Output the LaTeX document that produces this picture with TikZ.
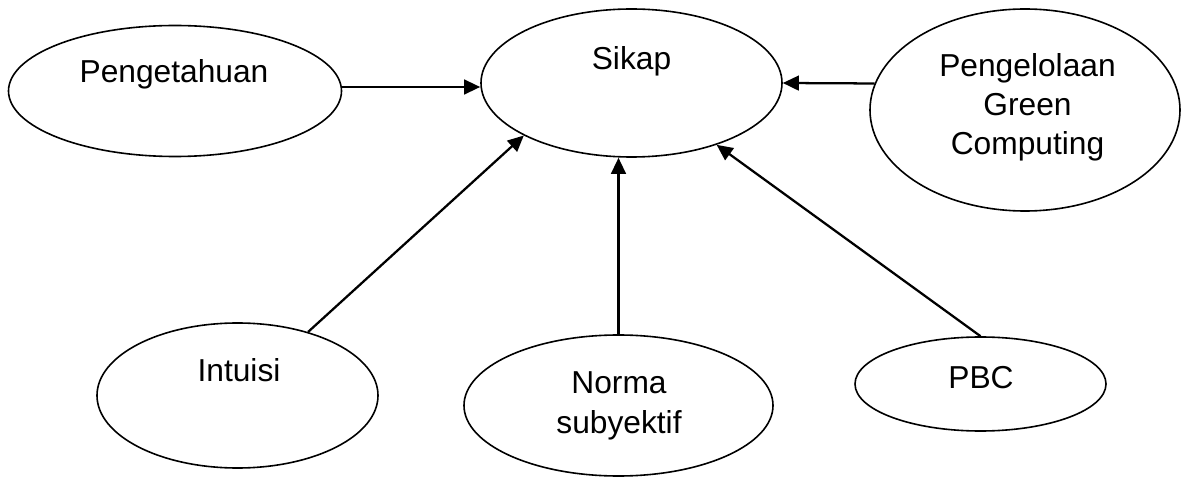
\documentclass[tikz,border=0pt]{standalone}
\usepackage{fontspec}
\setmainfont{Liberation Sans}
\usetikzlibrary{shapes.geometric,arrows.meta}
\begin{document}
\begin{tikzpicture}[x=0.75pt,y=-0.75pt,
  oval/.style={draw,ellipse,line width=1.2pt,inner sep=0pt},
  txt/.style={anchor=base,inner sep=0pt,align=center,font=\fontsize{23.8}{29.6}\selectfont},
  arr/.style={line width=1.7pt,-{Triangle[length=12pt,width=11pt]}}]
\useasboundingbox (0,0) rectangle (1182,477);
\node[oval,minimum width=249.75pt,minimum height=98.25pt] (pen) at (175,91) {};
\node[oval,minimum width=225.75pt,minimum height=111pt] (sik) at (631.5,83) {};
\node[oval,minimum width=232.5pt,minimum height=151.5pt] (pgc) at (1025,110) {};
\node[oval,minimum width=210.75pt,minimum height=108.75pt] (int) at (237.5,395.5) {};
\node[oval,minimum width=231.75pt,minimum height=105.75pt] (nor) at (618.5,405.5) {};
\node[oval,minimum width=188.25pt,minimum height=70.5pt] (pbc) at (980.5,384) {};
\node[txt] (tpen) at (174,83) {Pengetahuan};
\node[txt] (tsik) at (631.5,70) {Sikap};
\node[txt] (tpgc) at (1027.5,155) {Pengelolaan\\Green\\Computing};
\node[txt] (tint) at (239,382) {Intuisi};
\node[txt] (tnor) at (619,433) {Norma\\subyektif};
\node[txt] (tpbc) at (981,388) {PBC};
\draw[arr] ([yshift=3pt]pen.east) -- ([yshift=3pt]pen.east -| sik.west);
\draw[arr] (pgc.170) -- (sik.east);
\draw[arr] (int.42) -- (sik.206);
\draw[arr] (nor.north) -- (nor.north |- sik.south);
\draw[arr] (pbc.north) -- (sik.324);
\end{tikzpicture}
\end{document}
